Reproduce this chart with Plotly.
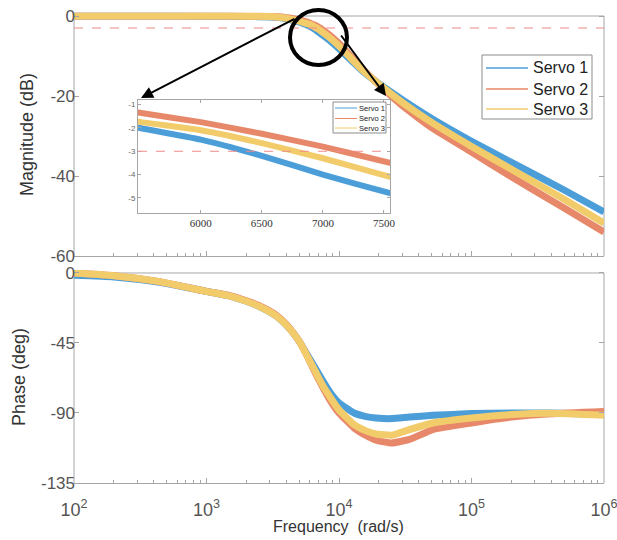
import plotly.graph_objects as go

# ---------------- data ----------------
series_names = ["Servo 1", "Servo 2", "Servo 3"]

mag_freq = [100, 300, 1000, 2000, 3000, 3500, 4000, 4500, 5000, 5500, 6000, 6500, 7000, 7550,
            8500, 10000, 12000, 15000, 20000, 30000, 50000, 100000, 200000, 500000, 1000000]
mag_servo1 = [0, 0, -0.05, -0.1, -0.25, -0.4, -0.7, -1.1, -1.5, -2.0, -2.5, -3.2, -4.0, -4.8,
              -6.1, -8.2, -10.7, -13.7, -16.9, -20.9, -25.6, -31.3, -36.6, -43.5, -49.0]
mag_servo2 = [0, 0, 0, -0.05, -0.1, -0.2, -0.4, -0.65, -0.95, -1.35, -1.75, -2.25, -2.8, -3.5,
              -4.8, -6.9, -9.7, -13.2, -17.2, -22.4, -27.9, -34.0, -40.2, -48.0, -54.0]
mag_servo3 = [0, 0, 0, -0.05, -0.15, -0.3, -0.55, -0.9, -1.3, -1.74, -2.1, -2.65, -3.3, -4.1,
              -5.4, -7.5, -10.2, -13.5, -17.0, -21.6, -26.6, -32.6, -38.3, -45.8, -51.8]

ph_freq = [100, 200, 430, 1000, 1500, 2000, 2500, 3000, 3400, 4000, 4700, 5100, 5800, 6600, 7500,
           8600, 10000, 13000, 16000, 19000, 25000, 34000, 51000, 100000, 200000, 400000, 1000000]
ph_servo1 = [-1.5, -2.5, -5.8, -11.8, -14.8, -18.2, -21.5, -25, -28, -33.5, -40.5, -45, -53, -61, -69,
             -77, -83.5, -90, -92.3, -93.2, -93.6, -92.6, -91.5, -90.4, -90, -90, -91]
ph_servo2 = [0, -1.7, -5.4, -11.8, -14.6, -17.8, -21, -24.5, -27.5, -33, -40.5, -45, -54, -64, -73,
             -82, -90, -99.6, -104.5, -107.5, -109.3, -107, -100.7, -96.4, -92.6, -90.5, -89]
ph_servo3 = [0, -1.7, -5.4, -11.8, -14.8, -18.2, -21.5, -25, -28, -33.5, -40.5, -45, -54, -63, -72,
             -80, -88, -97.5, -101.5, -103.5, -104.3, -100.7, -96.4, -93.2, -91, -90.2, -91.5]

threshold_db = -3
mag_ticks = [0, -20, -40, -60]
mag_ticktext = ["0", "-20", "-40", "-60"]
phase_ticks = [0, -45, -90, -135]
phase_ticktext = ["0", "-45", "-90", "-135"]
freq_ticks = [100, 1000, 10000, 100000, 1000000]
freq_ticktext = ["10<sup>2</sup>", "10<sup>3</sup>", "10<sup>4</sup>", "10<sup>5</sup>", "10<sup>6</sup>"]
inset_xticks = [6000, 6500, 7000, 7500]
inset_yticks = [-1, -2, -3, -4, -5]
inset_yticktext = ["-1", "-2", "-3", "-4", "-5"]

colors = ["#4C9ED9", "#E8886A", "#F2CC6B"]
# ----------------------------------------------------------------

W, H = 617, 540
ML, MR, MT, MB = 74, 13, 10, 57
PW, PH = W - ML - MR, H - MT - MB
BOT = H - MB


def px(x):
    return (x - ML) / PW


def py(y):
    return (BOT - y) / PH


fig = go.Figure()

mags = [mag_servo1, mag_servo2, mag_servo3]
phs = [ph_servo1, ph_servo2, ph_servo3]
sp = dict(shape="spline", smoothing=0.4)

for i in range(3):
    fig.add_trace(go.Scatter(x=mag_freq, y=mags[i], mode="lines", line=dict(color=colors[i], width=7, **sp),
                             showlegend=False, xaxis="x", yaxis="y", hoverinfo="skip"))
for i in range(3):
    fig.add_trace(go.Scatter(x=ph_freq, y=phs[i], mode="lines", line=dict(color=colors[i], width=7, **sp),
                             showlegend=False, xaxis="x2", yaxis="y2", hoverinfo="skip"))
for i in range(3):
    fig.add_trace(go.Scatter(x=mag_freq, y=mags[i], mode="lines", line=dict(color=colors[i], width=6, **sp),
                             showlegend=False, xaxis="x3", yaxis="y3", hoverinfo="skip"))

minor_vals = [m * 10 ** k for k in range(2, 6) for m in range(2, 10)]
axcol = "#A6A6A6"
sans = "Liberation Sans, Arial, sans-serif"
tickfont = dict(family=sans, size=17, color="#555555")

common_x = dict(type="log", range=[2, 6], showline=True, linecolor=axcol, linewidth=1, mirror="ticks",
                ticks="inside", ticklen=5, tickcolor=axcol, showgrid=False, zeroline=False, automargin=False,
                tickvals=freq_ticks, ticktext=freq_ticktext, ticklabeloverflow="allow",
                minor=dict(tickvals=minor_vals, ticks="inside", ticklen=3, tickcolor=axcol, showgrid=False))

# top plot: 0 dB at y=16 px, -60 dB at y=256 px (4 px / dB); range padded so thick lines are not clipped
mag_top = 0.9
ph_top = 2.0
fig.update_layout(
    width=W, height=H, margin=dict(l=ML, r=MR, t=MT, b=MB, autoexpand=False),
    paper_bgcolor="white", plot_bgcolor="white", showlegend=False,
    xaxis=dict(common_x, domain=[0, 1], anchor="y", showticklabels=False, mirror=False),
    yaxis=dict(domain=[py(256), py(16 - mag_top * 4)], range=[-60, mag_top], anchor="x",
               tickvals=mag_ticks, ticktext=mag_ticktext, showline=False, automargin=False,
               mirror="ticks", ticks="inside", ticklen=5, tickcolor=axcol, showgrid=False, zeroline=False,
               tickfont=tickfont, ticklabelstandoff=-2, ticklabeloverflow="allow"),
    xaxis2=dict(common_x, domain=[0, 1], anchor="y2", mirror=False, ticklabelstandoff=10,
                tickfont=dict(family=sans, size=18, color="#555555")),
    yaxis2=dict(domain=[0, py(273 - ph_top * 210 / 135)], range=[-135, ph_top], anchor="x2",
                tickvals=phase_ticks, ticktext=phase_ticktext, showline=False, automargin=False,
                mirror="ticks", ticks="inside", ticklen=5, tickcolor=axcol, showgrid=False, zeroline=False,
                tickfont=tickfont, ticklabelstandoff=-2, ticklabeloverflow="allow"),
    xaxis3=dict(domain=[px(138), px(390)], range=[5485, 7550], anchor="y3", tickvals=inset_xticks,
                showline=True, linecolor=axcol, mirror="ticks", ticks="inside", ticklen=3, tickcolor=axcol,
                showgrid=False, zeroline=False, automargin=False,
                tickfont=dict(family="Liberation Serif, DejaVu Serif, serif", size=11, color="#333333")),
    yaxis3=dict(domain=[py(213), py(100)], range=[-5.65, -0.8], anchor="x3", tickvals=inset_yticks,
                ticktext=inset_yticktext, automargin=False,
                showline=True, linecolor=axcol, mirror="ticks", ticks="inside", ticklen=3, tickcolor=axcol,
                showgrid=False, zeroline=False,
                tickfont=dict(family=sans, size=8, color="#666666")),
)

# frame lines (top/left/right) for the two main panels, drawn under the curves
for xa, ya, y_lo in (("x", "y", -60), ("x2", "y2", -135)):
    fr = dict(type="line", layer="below", line=dict(color=axcol, width=1))
    fig.add_shape(fr, xref=xa + " domain", yref=ya, x0=0, x1=1, y0=0, y1=0)
    fig.add_shape(fr, xref=xa + " domain", yref=ya, x0=0, x1=0, y0=y_lo, y1=0)
    fig.add_shape(fr, xref=xa + " domain", yref=ya, x0=1, x1=1, y0=y_lo, y1=0)

# -3 dB reference lines
fig.add_shape(type="line", xref="x domain", yref="y", x0=0, x1=1, y0=threshold_db, y1=threshold_db,
              line=dict(color="#F08A8A", width=1.2, dash="dash"))
fig.add_shape(type="line", xref="x3 domain", yref="y3", x0=0, x1=1, y0=threshold_db, y1=threshold_db,
              line=dict(color="#F08A8A", width=1, dash="dash"))

# zoom circle
fig.add_shape(type="circle", xref="paper", yref="paper", x0=px(290), x1=px(347), y0=py(65), y1=py(10),
              line=dict(color="black", width=4))

# arrows
fig.add_annotation(xref="paper", yref="paper", x=px(141), y=py(98), ax=296 - 141, ay=18 - 98, text="",
                   showarrow=True, arrowhead=2, arrowsize=1.2, arrowwidth=2, arrowcolor="black")
fig.add_annotation(xref="paper", yref="paper", x=px(386), y=py(96), ax=340 - 386, ay=34 - 96, text="",
                   showarrow=True, arrowhead=2, arrowsize=1.2, arrowwidth=2, arrowcolor="black")


# legends (box, line samples, labels)
def legend_box(x0, y0, x1, y1, rows, lx0, lx1, tx, fsize, lw):
    fig.add_shape(type="rect", xref="paper", yref="paper", x0=px(x0), x1=px(x1), y0=py(y1), y1=py(y0),
                  line=dict(color="#8C8C8C", width=1), fillcolor="white")
    for i, ry in enumerate(rows):
        fig.add_shape(type="line", xref="paper", yref="paper", x0=px(lx0), x1=px(lx1), y0=py(ry), y1=py(ry),
                      line=dict(color=colors[i], width=lw))
        fig.add_annotation(xref="paper", yref="paper", x=px(tx), y=py(ry), text=series_names[i],
                           xanchor="left", yanchor="middle", showarrow=False,
                           font=dict(family=sans, size=fsize, color="#222222"))


legend_box(482, 55, 592, 119, [68, 89, 109], 486, 528, 531, 16, 1.3)
legend_box(333, 102, 386, 133, [108, 118.5, 128], 335, 357, 357, 7.5, 1)

# axis titles
title_font = dict(family=sans, size=18, color="#333333")
fig.add_annotation(xref="paper", yref="paper", x=px(27), y=py(135), text="Magnitude (dB)", textangle=-90,
                   xanchor="center", yanchor="middle", showarrow=False, font=title_font)
fig.add_annotation(xref="paper", yref="paper", x=px(19), y=py(377), text="Phase (deg)", textangle=-90,
                   xanchor="center", yanchor="middle", showarrow=False, font=title_font)
fig.add_annotation(xref="paper", yref="paper", x=px(338), y=py(526), text="Frequency  (rad/s)",
                   xanchor="center", yanchor="middle", showarrow=False,
                   font=dict(family=sans, size=16, color="#333333"))

fig.write_html("out.html")
